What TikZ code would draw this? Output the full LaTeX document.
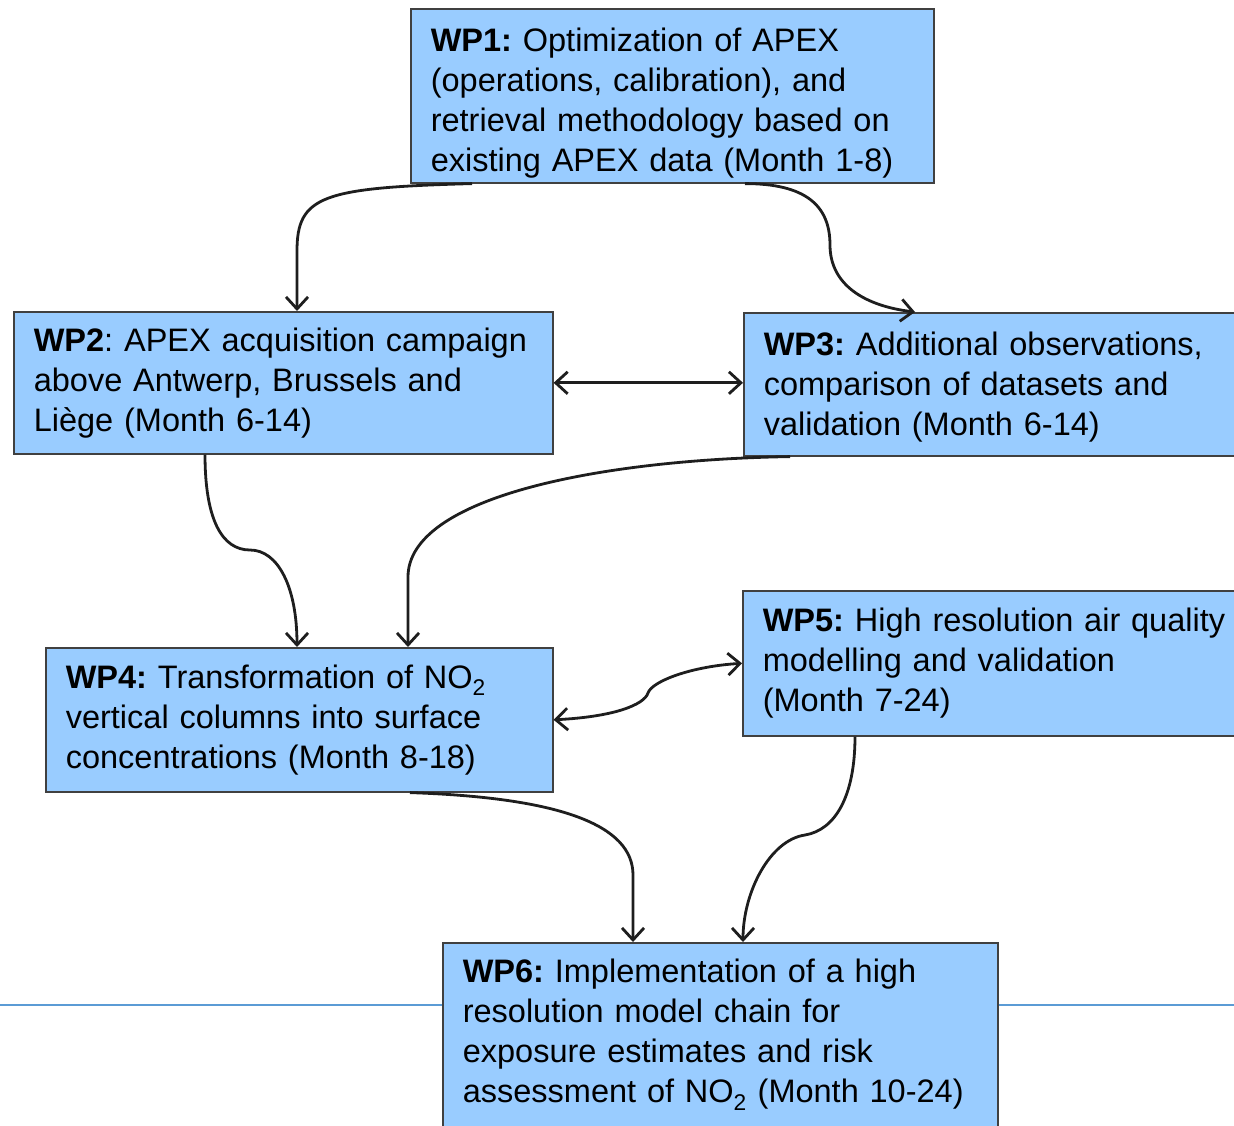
\documentclass[tikz,border=0pt]{standalone}
\usepackage{fontspec}
\setmainfont{Liberation Sans}
\usepackage{xcolor}
\usetikzlibrary{arrows.meta, positioning}
\definecolor{boxblue}{RGB}{153,204,255}
\definecolor{boxline}{RGB}{64,64,64}
\definecolor{flowcol}{RGB}{30,30,30}
\definecolor{lineblue}{RGB}{91,155,213}
\frenchspacing
\hyphenpenalty=10000
\tikzset{
  wpbox/.style={draw=boxline, fill=boxblue, line width=1.6pt, anchor=north west,
    inner xsep=20pt, inner ysep=0pt, align=left,
    font=\fontsize{32.5pt}{40pt}\selectfont},
  barb/.tip={Straight Barb[length=12pt,width=22pt,line width=2.8pt]},
  flow/.style={draw=flowcol, line width=2.8pt, -barb},
  hline/.style={draw=lineblue, line width=1.4pt}
}

\begin{document}
\begin{tikzpicture}[x=1pt, y=-1pt]
\useasboundingbox (0,0) rectangle (1234,1125);
\clip (0,0) rectangle (1234,1125);

% background rule
\draw[hline] (0,1005) -- (1234,1005);

% work packages
\node[wpbox, text width=483pt, minimum height=174pt] (wp1) at (410,8)
  {\rule{0pt}{38pt}\textbf{WP1:} Optimization of APEX\\(operations, calibration), and\\retrieval methodology based on\\existing APEX data (Month 1-8)};
\node[wpbox, text width=499pt, minimum height=142pt] (wp2) at (13,311)
  {\textbf{WP2}: APEX acquisition campaign\\above Antwerp, Brussels and\\Liège (Month 6-14)};
\node[wpbox, text width=490pt, minimum height=143pt] (wp3) at (743,312)
  {\rule{0pt}{30pt}\textbf{WP3:} Additional observations,\\comparison of datasets and\\validation (Month 6-14)};
\node[wpbox, text width=467pt, minimum height=144pt] (wp4) at (45,647)
  {\textbf{WP4:} Transformation of NO\textsubscript{2}\\vertical columns into surface\\concentrations (Month 8-18)};
\node[wpbox, text width=490pt, minimum height=145pt] (wp5) at (742,590)
  {\textbf{WP5:} High resolution air quality\\modelling and validation\\(Month 7-24)};
\node[wpbox, text width=515pt, minimum height=184pt] (wp6) at (442,942)
  {\textbf{WP6:} Implementation of a high\\resolution model chain for\\exposure estimates and risk\\assessment of NO\textsubscript{2} (Month 10-24)};

% WP1 out
\draw[flow] ([xshift=62pt]wp1.south west) .. controls +(-150,4) and +(0,-55) .. ([xshift=284pt,yshift=60pt]wp2.north west) -- ([xshift=284pt]wp2.north west);
\draw[flow] ([xshift=335pt]wp1.south west) .. controls +(60,0) and +(0,-40) .. (830,245) .. controls +(0,40) and +(-50,-6) .. ([xshift=172pt]wp3.north west);

% WP2 <-> WP3
\draw[flow, barb-barb] (wp2.east) -- (wp2.east -| wp3.west);

% into WP4
\draw[flow] ([xshift=192pt]wp2.south west) .. controls +(0,65) and +(-28,0) .. (250,550) .. controls +(28,0) and +(0,-60) .. ([xshift=252pt]wp4.north west);
\draw[flow] ([xshift=47pt]wp3.south west) .. controls +(-190,3) and +(0,-80) .. ([xshift=363pt,yshift=70pt]wp4.north west) -- ([xshift=363pt]wp4.north west);

% WP4 <-> WP5
\draw[flow, barb-barb] (wp4.east) .. controls +(60,-3) and +(-4,12) .. (648,693) .. controls +(4,-12) and +(-50,3) .. (wp5.west);

% into WP6
\draw[flow] ([xshift=365pt]wp4.south west) .. controls +(150,5) and +(0,-50) .. ([xshift=191pt,yshift=67pt]wp6.north west) -- ([xshift=191pt]wp6.north west);
\draw[flow] ([xshift=113pt]wp5.south west) .. controls +(0,60) and +(30,-5) .. (805,835) .. controls +(-35,5) and +(0,-50) .. ([xshift=301pt]wp6.north west);
\end{tikzpicture}
\end{document}
